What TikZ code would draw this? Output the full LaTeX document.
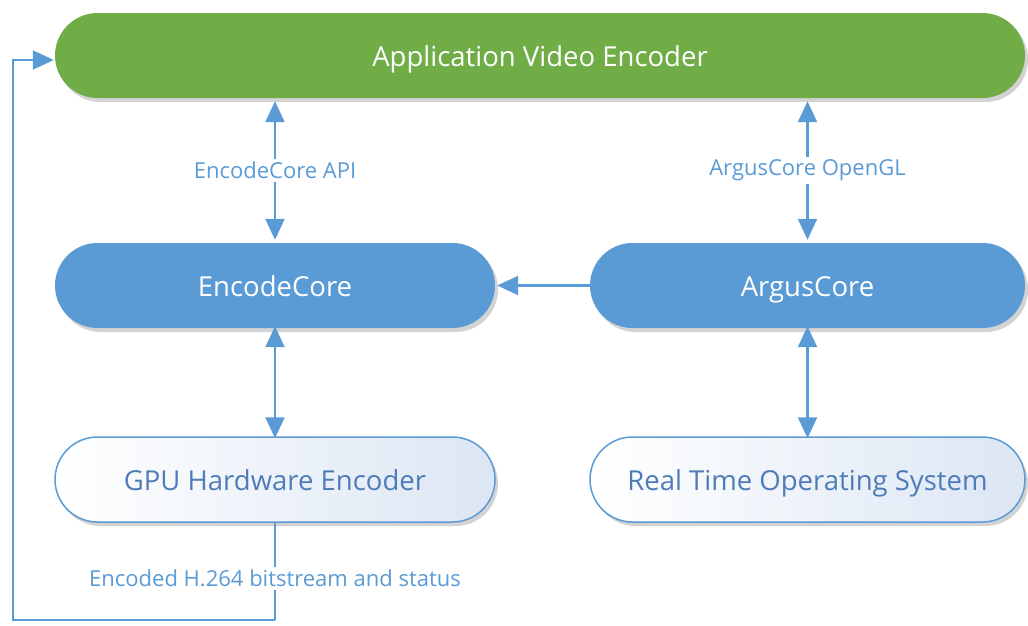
\documentclass[tikz,border=0pt]{standalone}
\usepackage{fontspec}
\setmainfont{Open Sans}
\usetikzlibrary{shapes.misc,arrows.meta,shadows}
\definecolor{appgreen}{HTML}{70AD47}
\definecolor{coreblue}{HTML}{5B9BD5}
\definecolor{linkblue}{HTML}{5B9BD5}
\definecolor{hwtext}{HTML}{4F7CB8}
\definecolor{hwfill}{HTML}{DCE6F4}
\tikzset{
  pill/.style={rounded rectangle, minimum height=85pt, inner sep=0pt, font=\fontsize{27.5}{30}\selectfont,
     text height=22pt, text depth=0pt,
     drop shadow={opacity=0.35, shadow xshift=3pt, shadow yshift=-4pt}},
  appbox/.style={pill, fill=appgreen, text=white, minimum width=970pt},
  corebox/.style={pill, fill=coreblue, text=white, minimum width=440pt},
  hwbox/.style={pill, draw=coreblue, line width=1.5pt, shading angle=135,
     left color=white, right color=hwfill, text=hwtext, minimum width=440pt},
  link/.style={draw=linkblue, line width=2.2pt, -{Triangle[length=21pt,width=19pt]}},
  dlink/.style={draw=linkblue, line width=2.2pt, {Triangle[length=21pt,width=19pt]}-{Triangle[length=21pt,width=19pt]}},
  lbl/.style={fill=white, text=linkblue, inner sep=3pt, font=\fontsize{22}{24}\selectfont}
}
\begin{document}
\begin{tikzpicture}[x=1pt,y=-1pt]
\useasboundingbox (0,0) rectangle (1028,625);
\node[appbox] (app) at (540,55.5) {Application Video Encoder};
\node[corebox] (enc) at (275,285.5) {EncodeCore};
\node[corebox, minimum width=435pt] (argus) at (807.5,285.5) {ArgusCore};
\node[hwbox] (gpu) at (275,479.5) {GPU Hardware Encoder};
\node[hwbox, minimum width=435pt] (rtos) at (807.5,479.5) {Real Time Operating System};
\coordinate (ea) at (enc.north |- app.south);
\coordinate (aa) at (argus.north |- app.south);
\draw[dlink] ([yshift=3pt]enc.north) -- ([yshift=-3pt]ea) node[lbl, pos=0.5] {EncodeCore API};
\draw[dlink] ([yshift=3pt]argus.north) -- ([yshift=-3pt]aa) node[lbl, pos=0.5] {ArgusCore OpenGL};
\draw[link] (argus.west) -- ([xshift=2pt]enc.east);
\draw[dlink] ([yshift=2pt]enc.south) -- ([yshift=-2pt]gpu.north);
\draw[dlink] ([yshift=2pt]argus.south) -- ([yshift=-2pt]rtos.north);
\coordinate (fb1) at (275,620);
\coordinate (fb2) at (13,620);
\coordinate (fb3) at (13,60);
\draw[draw=linkblue, line width=2.2pt] (gpu.south) -- (fb1) node[lbl, pos=0.57] {Encoded H.264 bitstream and status};
\draw[link, line width=1.8pt] (fb1) -- (fb2) -- (fb3) -- ([xshift=-1pt]app.west |- fb3);
\end{tikzpicture}
\end{document}
